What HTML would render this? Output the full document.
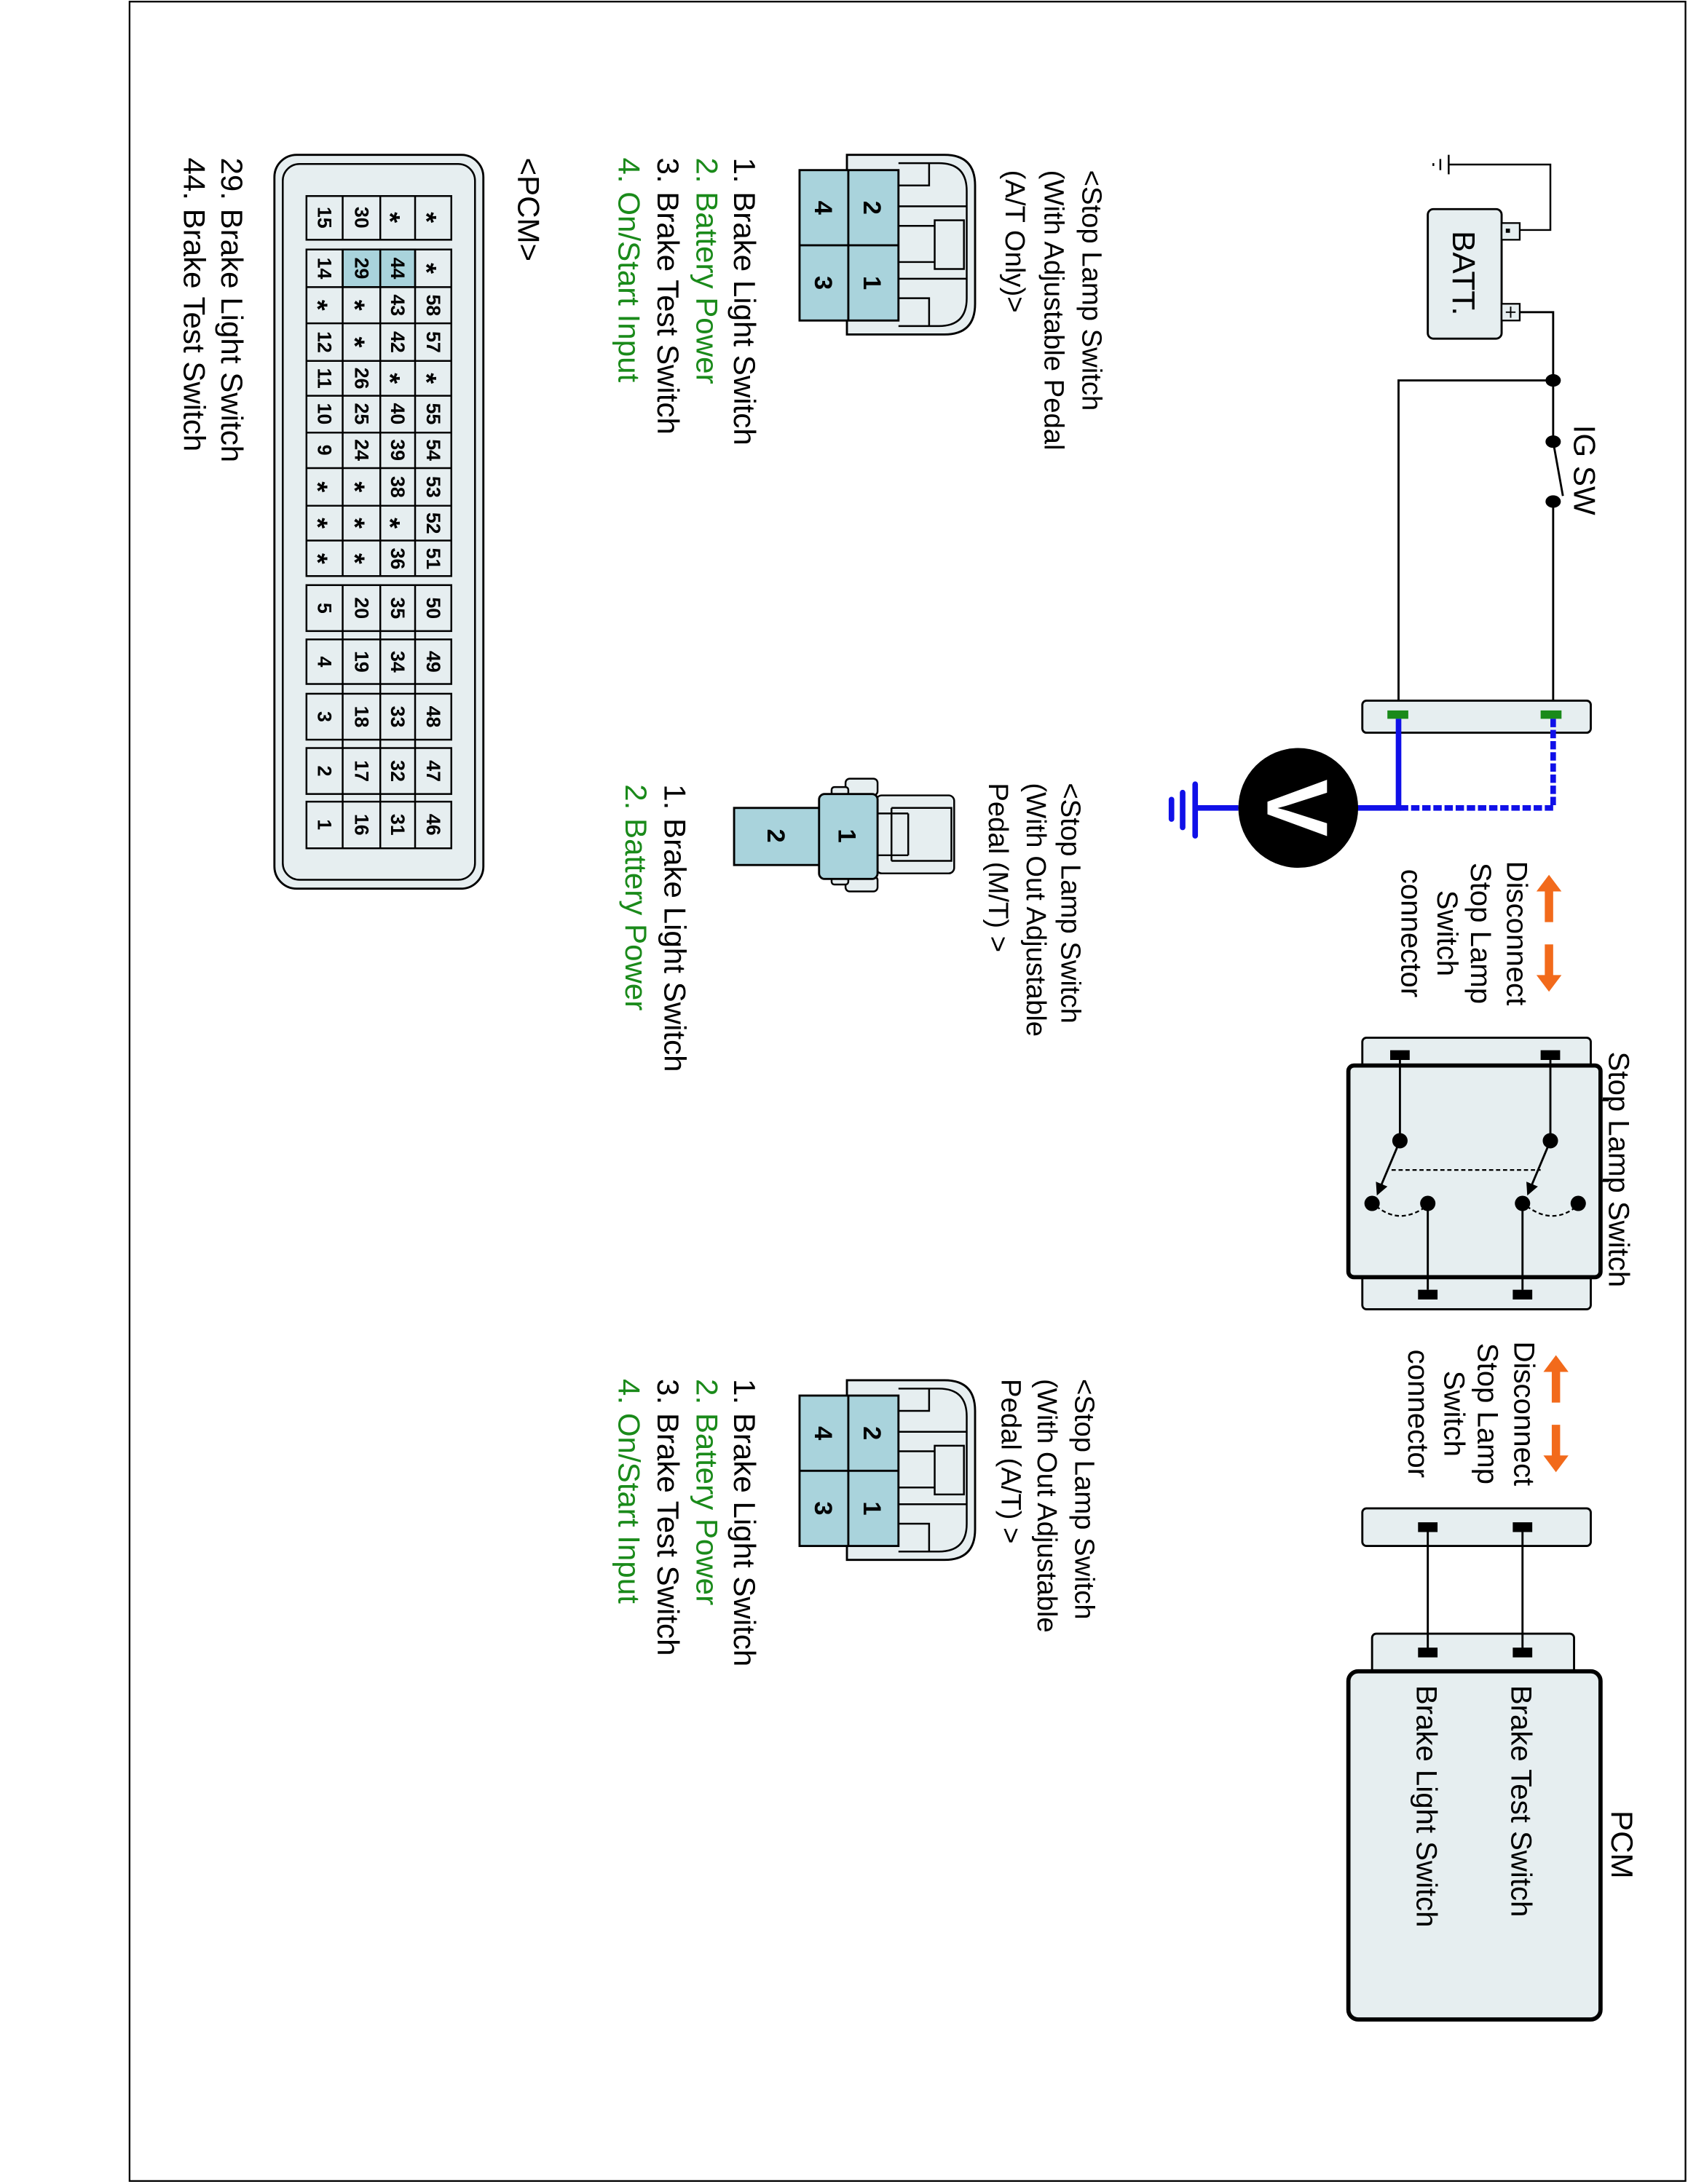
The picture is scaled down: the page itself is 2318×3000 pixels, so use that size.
<!DOCTYPE html>
<html><head><meta charset="utf-8"><style>
html,body{margin:0;padding:0;background:#fff;}
svg{display:block;}
text{font-family:"Liberation Sans",sans-serif;}
</style></head><body>
<svg width="2318" height="3000" viewBox="0 0 1211.8 1568" xmlns="http://www.w3.org/2000/svg">
<defs>
<marker id="ah" markerWidth="6" markerHeight="6" refX="5" refY="3" orient="auto" markerUnits="strokeWidth"><path d="M0,0 L6,3 L0,6 z" fill="#000"/></marker>
</defs>
<rect x="93" y="1" width="1117" height="1565" fill="none" stroke="#000" stroke-width="1.2"/>

<g stroke="#000" fill="none" stroke-width="1.3">
<path d="M1040,118 H1113 V165 H1090"/>
<line x1="1040" y1="111" x2="1040" y2="125"/>
<line x1="1034" y1="114" x2="1034" y2="122"/>
<line x1="1029" y1="117" x2="1029" y2="119"/>
</g>
<rect x="1025" y="150" width="53" height="93" rx="4" fill="#e6eef0" stroke="#000" stroke-width="1.5"/>
<rect x="1078" y="160" width="13" height="12" fill="#e6eef0" stroke="#000" stroke-width="1.2"/>
<rect x="1078" y="218" width="13" height="12" fill="#e6eef0" stroke="#000" stroke-width="1.2"/>
<rect x="1081" y="164" width="3" height="3" fill="#000"/>
<path d="M1081,224 h7 M1084.5,220 v8" stroke="#000" stroke-width="1"/>
<text x="1043" y="196" transform="rotate(90 1043 196)" font-size="23" text-anchor="middle">BATT.</text>

<g stroke="#000" fill="none" stroke-width="1.5">
<path d="M1091,224 H1115 V317"/>
<path d="M1115,273 H1004 V505"/>
<path d="M1115,317 L1122,356"/>
<path d="M1115,360 V505"/>
</g>
<g fill="#000">
<ellipse cx="1115" cy="273" rx="5.5" ry="4.5"/>
<ellipse cx="1115" cy="317" rx="5.5" ry="4.5"/>
<ellipse cx="1115" cy="360" rx="5.5" ry="4.5"/>
</g>
<text x="1130" y="305" transform="rotate(90 1130 305)" font-size="22">IG SW</text>

<rect x="978" y="503" width="164" height="23" rx="3" fill="#e6eef0" stroke="#000" stroke-width="1.5"/>
<rect x="996" y="510" width="15" height="6" fill="#1a8a1a"/>
<rect x="1106" y="510" width="15" height="6" fill="#1a8a1a"/>
<g stroke="#1010e8" fill="none" stroke-width="4">
<path d="M1004,516 V580 H960"/>
<path d="M1115,516 V580 H1004" stroke-dasharray="6,2"/>
<path d="M889,580 H858"/>
</g>
<g stroke="#1010e8" stroke-width="4" stroke-linecap="round">
<line x1="858" y1="563" x2="858" y2="600"/>
<line x1="849" y1="569" x2="849" y2="594"/>
<line x1="841" y1="574" x2="841" y2="588"/>
</g>
<circle cx="932" cy="580" r="43" fill="#000"/>
<text x="910" y="580" transform="rotate(90 910 580)" font-size="62" font-weight="bold" fill="#fff" text-anchor="middle">V</text>

<g fill="#f26a1b">
<path d="M1112,628 l-9,12 h6 v22 h6 v-22 h6 z"/>
<path d="M1112,712 l-9,-12 h6 v-22 h6 v22 h6 z"/>
<path d="M1117,973 l-9,12 h6 v22 h6 v-22 h6 z"/>
<path d="M1117,1057 l-9,-12 h6 v-22 h6 v22 h6 z"/>
</g>
<g font-size="21" text-anchor="middle">
<text x="1082" y="670" transform="rotate(90 1082 670)">Disconnect</text>
<text x="1056" y="670" transform="rotate(90 1056 670)">Stop Lamp</text>
<text x="1032" y="670" transform="rotate(90 1032 670)">Switch</text>
<text x="1006" y="670" transform="rotate(90 1006 670)">connector</text>
<text x="1087" y="1015" transform="rotate(90 1087 1015)">Disconnect</text>
<text x="1061" y="1015" transform="rotate(90 1061 1015)">Stop Lamp</text>
<text x="1037" y="1015" transform="rotate(90 1037 1015)">Switch</text>
<text x="1011" y="1015" transform="rotate(90 1011 1015)">connector</text>
</g>

<rect x="978" y="745" width="164" height="25" rx="3" fill="#e6eef0" stroke="#000" stroke-width="1.5"/>
<rect x="978" y="912" width="164" height="28" rx="3" fill="#e6eef0" stroke="#000" stroke-width="1.5"/>
<rect x="968" y="765" width="181" height="152" rx="4" fill="#e6eef0" stroke="#000" stroke-width="3"/>
<line x1="1149" y1="790" x2="1155" y2="790" stroke="#000" stroke-width="1.2"/>
<line x1="1149" y1="848" x2="1155" y2="848" stroke="#000" stroke-width="1.2"/>
<rect x="998" y="754" width="14" height="7" fill="#000"/>
<rect x="1106" y="754" width="14" height="7" fill="#000"/>
<rect x="1018" y="926" width="14" height="7" fill="#000"/>
<rect x="1086" y="926" width="14" height="7" fill="#000"/>
<g stroke="#000" fill="none" stroke-width="1.5">
<path d="M1005,761 V819"/><path d="M1113,761 V819"/>
<path d="M1025,864 V926"/><path d="M1093,864 V926"/>
<path d="M1005,819 L989,857" marker-end="url(#ah)"/>
<path d="M1113,819 L1097,857" marker-end="url(#ah)"/>
<path d="M999,840 H1106" stroke-dasharray="3,2" stroke-width="1.2"/>
<path d="M988,866 Q1005,880 1024,866" stroke-dasharray="3,2" stroke-width="1.2"/>
<path d="M1096,866 Q1115,880 1132,866" stroke-dasharray="3,2" stroke-width="1.2"/>
</g>
<g fill="#000">
<circle cx="1005" cy="819" r="5.5"/><circle cx="1113" cy="819" r="5.5"/>
<circle cx="985" cy="864" r="5.5"/><circle cx="1025" cy="864" r="5.5"/>
<circle cx="1093" cy="864" r="5.5"/><circle cx="1133" cy="864" r="5.5"/>
</g>
<text x="1155" y="755" transform="rotate(90 1155 755)" font-size="21">Stop Lamp Switch</text>

<rect x="978" y="1083" width="164" height="27" rx="3" fill="#e6eef0" stroke="#000" stroke-width="1.5"/>
<rect x="985" y="1173" width="145" height="30" rx="3" fill="#e6eef0" stroke="#000" stroke-width="1.5"/>
<rect x="968" y="1200" width="181" height="250" rx="7" fill="#e6eef0" stroke="#000" stroke-width="3"/>
<g stroke="#000" stroke-width="1.5"><path d="M1025,1097 V1187"/><path d="M1093,1097 V1187"/></g>
<rect x="1018" y="1093" width="14" height="7" fill="#000"/>
<rect x="1086" y="1093" width="14" height="7" fill="#000"/>
<rect x="1018" y="1183" width="14" height="7" fill="#000"/>
<rect x="1086" y="1183" width="14" height="7" fill="#000"/>
<text x="1157" y="1300" transform="rotate(90 1157 1300)" font-size="22">PCM</text>
<text x="1085" y="1210" transform="rotate(90 1085 1210)" font-size="21">Brake Test Switch</text>
<text x="1017" y="1210" transform="rotate(90 1017 1210)" font-size="21">Brake Light Switch</text>

<g id="c4">
<path d="M608,111 H678 Q700,111 700,133 V218 Q700,240 678,240 H608 z" fill="#e6eef0" stroke="#000" stroke-width="1.5"/>
<path d="M645,117 H674 Q694,117 694,137 V214 Q694,234 674,234 H645" fill="none" stroke="#000" stroke-width="1.3"/>
<path d="M645,133 H667 V117 M645,214 H667 V234" fill="none" stroke="#000" stroke-width="1.3"/>
<path d="M645,148 H694 M645,200 H694 M645,162 H671 M645,188 H671" fill="none" stroke="#000" stroke-width="1.3"/>
<rect x="671" y="158" width="21" height="35" fill="#e6eef0" stroke="#000" stroke-width="1.3"/>
<rect x="574" y="122" width="71" height="108" fill="#a9d3dc" stroke="#000" stroke-width="1.5"/>
<path d="M609,122 V230 M574,176 H645" stroke="#000" stroke-width="1.5"/>
</g>
<g font-size="18" font-weight="bold" text-anchor="middle">
<text x="620" y="149" transform="rotate(90 620 149)">2</text>
<text x="620" y="203" transform="rotate(90 620 203)">1</text>
<text x="585" y="149" transform="rotate(90 585 149)">4</text>
<text x="585" y="203" transform="rotate(90 585 203)">3</text>
</g>
<use href="#c4" transform="translate(0,880)"/>
<g font-size="18" font-weight="bold" text-anchor="middle">
<text x="620" y="1029" transform="rotate(90 620 1029)">2</text>
<text x="620" y="1083" transform="rotate(90 620 1083)">1</text>
<text x="585" y="1029" transform="rotate(90 585 1029)">4</text>
<text x="585" y="1083" transform="rotate(90 585 1083)">3</text>
</g>

<g font-size="20">
<text x="777" y="122" transform="rotate(90 777 122)">&lt;Stop Lamp Switch</text>
<text x="750" y="122" transform="rotate(90 750 122)">(With Adjustable Pedal</text>
<text x="722" y="122" transform="rotate(90 722 122)">(A/T Only)&gt;</text>
<text x="772" y="990" transform="rotate(90 772 990)">&lt;Stop Lamp Switch</text>
<text x="745" y="990" transform="rotate(90 745 990)">(With Out Adjustable</text>
<text x="719" y="990" transform="rotate(90 719 990)">Pedal (A/T) &gt;</text>
<text x="762" y="562" transform="rotate(90 762 562)">&lt;Stop Lamp Switch</text>
<text x="737" y="562" transform="rotate(90 737 562)">(With Out Adjustable</text>
<text x="710" y="562" transform="rotate(90 710 562)">Pedal (M/T) &gt;</text>
</g>
<g font-size="22">
<text x="527" y="113" transform="rotate(90 527 113)">1. Brake Light Switch</text>
<text x="500" y="113" transform="rotate(90 500 113)" fill="#1a8a1a">2. Battery Power</text>
<text x="472" y="113" transform="rotate(90 472 113)">3. Brake Test Switch</text>
<text x="444" y="113" transform="rotate(90 444 113)" fill="#1a8a1a">4. On/Start Input</text>
<text x="527" y="990" transform="rotate(90 527 990)">1. Brake Light Switch</text>
<text x="500" y="990" transform="rotate(90 500 990)" fill="#1a8a1a">2. Battery Power</text>
<text x="472" y="990" transform="rotate(90 472 990)">3. Brake Test Switch</text>
<text x="444" y="990" transform="rotate(90 444 990)" fill="#1a8a1a">4. On/Start Input</text>
<text x="477" y="563" transform="rotate(90 477 563)">1. Brake Light Switch</text>
<text x="449" y="563" transform="rotate(90 449 563)" fill="#1a8a1a">2. Battery Power</text>
<text x="372" y="113" transform="rotate(90 372 113)">&lt;PCM&gt;</text>
<text x="159" y="113" transform="rotate(90 159 113)">29. Brake Light Switch</text>
<text x="132" y="113" transform="rotate(90 132 113)">44. Brake Test Switch</text>
</g>

<g stroke="#000" stroke-width="1.3" fill="#e6eef0">
<rect x="607" y="559" width="23" height="12" rx="3"/>
<rect x="597" y="565" width="12" height="6" rx="2"/>
<rect x="607" y="629" width="23" height="11" rx="3"/>
<rect x="597" y="629" width="12" height="6" rx="2"/>
<rect x="629" y="571" width="56" height="56" rx="4"/>
<path d="M640,580 H683 V618 H640 M640,584 H629 M640,614 H629 M640,580 V618 M652,584 V614 M629,584 H652 M629,614 H652" fill="none"/>
<rect x="527" y="580" width="62" height="41" fill="#a9d3dc" stroke-width="1.5"/>
<rect x="588" y="570" width="42" height="61" rx="4" fill="#a9d3dc" stroke-width="1.5"/>
</g>
<g font-size="18" font-weight="bold" text-anchor="middle">
<text x="602" y="600" transform="rotate(90 602 600)">1</text>
<text x="551" y="600" transform="rotate(90 551 600)">2</text>
</g>

<rect x="197" y="111" width="150" height="527" rx="16" fill="#e6eef0" stroke="#000" stroke-width="1.5"/>
<rect x="203" y="117.6" width="138" height="514" rx="12" fill="#e6eef0" stroke="#000" stroke-width="1.3"/>
<g fill="#e6eef0" stroke="#000" stroke-width="1.3">
<rect x="220" y="140.6" width="104" height="31.4"/>
<rect x="220" y="179" width="104" height="234.5"/>
<rect x="220" y="420" width="104" height="33"/>
<rect x="220" y="459" width="104" height="32"/>
<rect x="220" y="498" width="104" height="33"/>
<rect x="220" y="537" width="104" height="33"/>
<rect x="220" y="575.5" width="104" height="33.5"/>
<rect x="246" y="179" width="27" height="27" fill="#a9d3dc"/>
<rect x="273" y="179" width="25" height="27" fill="#a9d3dc"/>
<path d="M246,140.6 V172 M273,140.6 V172 M298,140.6 V172 M246,179 V413.5 M273,179 V413.5 M298,179 V413.5 M246,420 V609 M273,420 V609 M298,420 V609 M220,206 H324 M220,232 H324 M220,259 H324 M220,284 H324 M220,310.5 H324 M220,336 H324 M220,363 H324 M220,388 H324" fill="none"/>
</g>
<g font-size="14" font-weight="bold" text-anchor="middle" dominant-baseline="central">
<text x="233" y="156" transform="rotate(90 233 156)">15</text>
<text x="259.5" y="156" transform="rotate(90 259.5 156)">30</text>
<text x="233" y="192.5" transform="rotate(90 233 192.5)">14</text>
<text x="259.5" y="192.5" transform="rotate(90 259.5 192.5)">29</text>
<text x="285.5" y="192.5" transform="rotate(90 285.5 192.5)">44</text>
<text x="285.5" y="219" transform="rotate(90 285.5 219)">43</text>
<text x="311" y="219" transform="rotate(90 311 219)">58</text>
<text x="233" y="245.5" transform="rotate(90 233 245.5)">12</text>
<text x="285.5" y="245.5" transform="rotate(90 285.5 245.5)">42</text>
<text x="311" y="245.5" transform="rotate(90 311 245.5)">57</text>
<text x="233" y="271.5" transform="rotate(90 233 271.5)">11</text>
<text x="259.5" y="271.5" transform="rotate(90 259.5 271.5)">26</text>
<text x="233" y="297" transform="rotate(90 233 297)">10</text>
<text x="259.5" y="297" transform="rotate(90 259.5 297)">25</text>
<text x="285.5" y="297" transform="rotate(90 285.5 297)">40</text>
<text x="311" y="297" transform="rotate(90 311 297)">55</text>
<text x="233" y="323" transform="rotate(90 233 323)">9</text>
<text x="259.5" y="323" transform="rotate(90 259.5 323)">24</text>
<text x="285.5" y="323" transform="rotate(90 285.5 323)">39</text>
<text x="311" y="323" transform="rotate(90 311 323)">54</text>
<text x="285.5" y="349.5" transform="rotate(90 285.5 349.5)">38</text>
<text x="311" y="349.5" transform="rotate(90 311 349.5)">53</text>
<text x="311" y="375.5" transform="rotate(90 311 375.5)">52</text>
<text x="285.5" y="401" transform="rotate(90 285.5 401)">36</text>
<text x="311" y="401" transform="rotate(90 311 401)">51</text>
<text x="233" y="436.5" transform="rotate(90 233 436.5)">5</text>
<text x="259.5" y="436.5" transform="rotate(90 259.5 436.5)">20</text>
<text x="285.5" y="436.5" transform="rotate(90 285.5 436.5)">35</text>
<text x="311" y="436.5" transform="rotate(90 311 436.5)">50</text>
<text x="233" y="475" transform="rotate(90 233 475)">4</text>
<text x="259.5" y="475" transform="rotate(90 259.5 475)">19</text>
<text x="285.5" y="475" transform="rotate(90 285.5 475)">34</text>
<text x="311" y="475" transform="rotate(90 311 475)">49</text>
<text x="233" y="514.5" transform="rotate(90 233 514.5)">3</text>
<text x="259.5" y="514.5" transform="rotate(90 259.5 514.5)">18</text>
<text x="285.5" y="514.5" transform="rotate(90 285.5 514.5)">33</text>
<text x="311" y="514.5" transform="rotate(90 311 514.5)">48</text>
<text x="233" y="553.5" transform="rotate(90 233 553.5)">2</text>
<text x="259.5" y="553.5" transform="rotate(90 259.5 553.5)">17</text>
<text x="285.5" y="553.5" transform="rotate(90 285.5 553.5)">32</text>
<text x="311" y="553.5" transform="rotate(90 311 553.5)">47</text>
<text x="233" y="592" transform="rotate(90 233 592)">1</text>
<text x="259.5" y="592" transform="rotate(90 259.5 592)">16</text>
<text x="285.5" y="592" transform="rotate(90 285.5 592)">31</text>
<text x="311" y="592" transform="rotate(90 311 592)">46</text>
</g>
<g font-size="20" font-weight="bold" text-anchor="middle" dominant-baseline="central">
<text x="280" y="156" transform="rotate(90 280 156)">*</text>
<text x="306" y="156" transform="rotate(90 306 156)">*</text>
<text x="306" y="192.5" transform="rotate(90 306 192.5)">*</text>
<text x="228" y="219" transform="rotate(90 228 219)">*</text>
<text x="254.5" y="219" transform="rotate(90 254.5 219)">*</text>
<text x="254.5" y="245.5" transform="rotate(90 254.5 245.5)">*</text>
<text x="280" y="271.5" transform="rotate(90 280 271.5)">*</text>
<text x="306" y="271.5" transform="rotate(90 306 271.5)">*</text>
<text x="228" y="349.5" transform="rotate(90 228 349.5)">*</text>
<text x="254.5" y="349.5" transform="rotate(90 254.5 349.5)">*</text>
<text x="228" y="375.5" transform="rotate(90 228 375.5)">*</text>
<text x="254.5" y="375.5" transform="rotate(90 254.5 375.5)">*</text>
<text x="280" y="375.5" transform="rotate(90 280 375.5)">*</text>
<text x="228" y="401" transform="rotate(90 228 401)">*</text>
<text x="254.5" y="401" transform="rotate(90 254.5 401)">*</text>
</g>
</svg>
</body></html>
